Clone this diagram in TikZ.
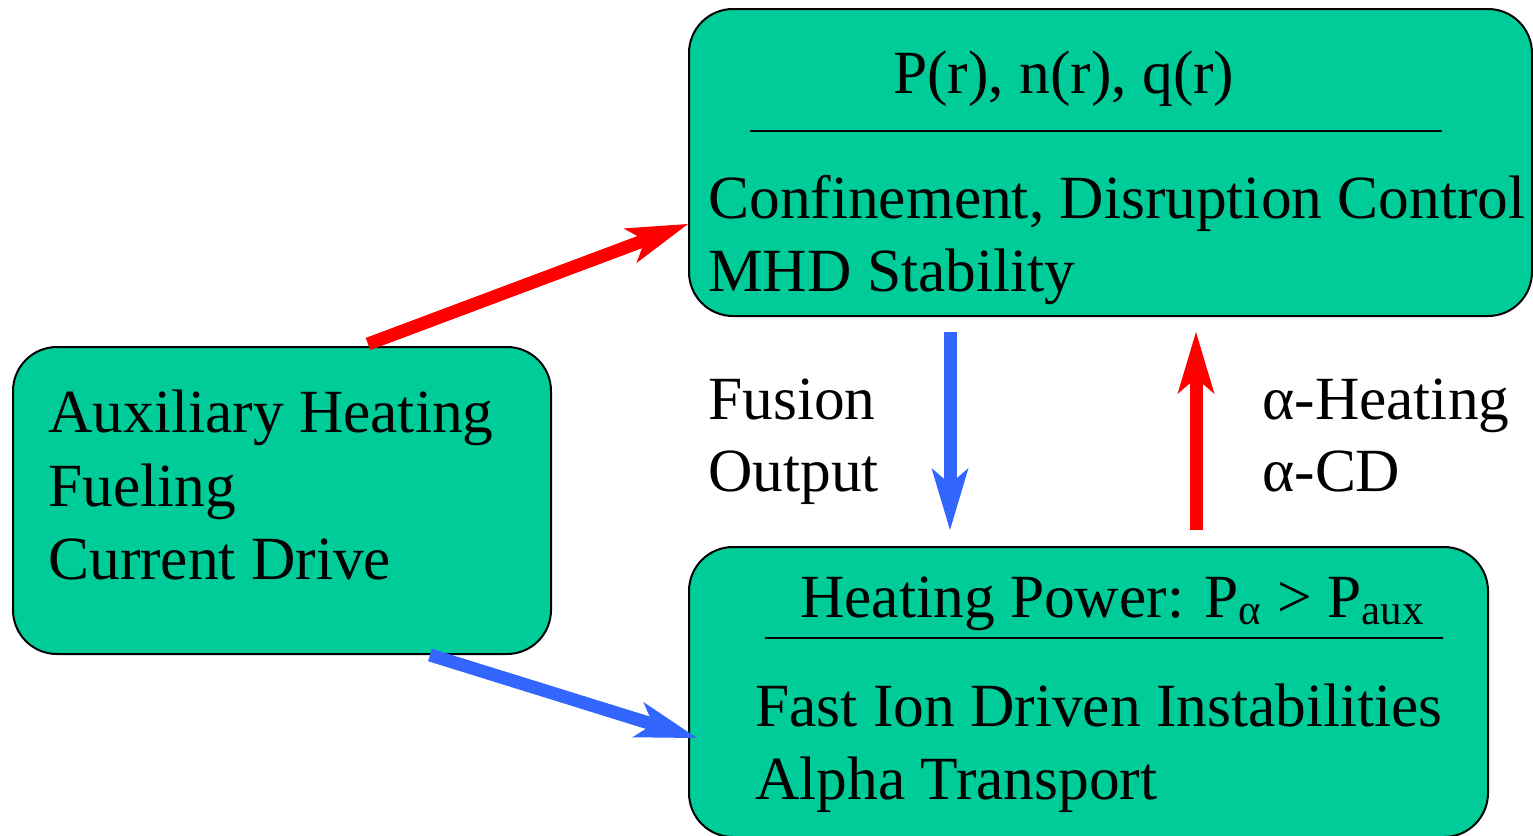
\documentclass[tikz,border=0pt]{standalone}
\usepackage{fontspec}
\setmainfont{Liberation Serif}
\usepackage{tikz}
\usepackage{xcolor}
\usetikzlibrary{arrows.meta}

\definecolor{boxgreen}{RGB}{0,204,153}
\definecolor{arrowblue}{RGB}{51,102,255}
\definecolor{arrowred}{RGB}{255,0,0}

\tikzset{
  panel/.style={draw=black, line width=1pt, fill=boxgreen, rounded corners=22pt, inner sep=0pt},
  txt/.style={anchor=base west, inner sep=0pt},
  fatarrow/.style={line width=6.5pt, -{Stealth[length=31pt, width=18.5pt, inset=8pt, line width=0pt]}}
}

\begin{document}
\begin{tikzpicture}[x=0.5pt, y=-0.5pt, font=\fontsize{30.7}{37}\selectfont]
\useasboundingbox (0,0) rectangle (1533,836);
% boxes
\node[panel, minimum width=421.5pt, minimum height=153.5pt] (plasma) at (1110.5,162.5) {};
\node[panel, minimum width=269pt, minimum height=153.5pt] (aux) at (282,500.5) {};
\node[panel, minimum width=399.5pt, minimum height=145pt] (alpha) at (1088.5,692) {};
% rules under the headings
\draw[line width=0.8pt] (750,131) -- (1442,131);
\draw[line width=0.8pt] (765,638) -- (1443,638);
% texts
\node[txt] (prof) at (893,93) {P(r), n(r), q(r)};
\node[txt] (conf) at (708,218) {Confinement, Disruption Control};
\node[txt] (mhd) at (708,291) {MHD Stability};
\node[txt] (auxh) at (48,432) {Auxiliary Heating};
\node[txt] (fuel) at (48,506) {Fueling};
\node[txt] (cd) at (48,579) {Current Drive};
\node[txt] (fus) at (708,419) {Fusion};
\node[txt] (out) at (708,491) {Output};
\node[txt] (aheat) at (1262,419) {α-Heating};
\node[txt] (acd) at (1262,491) {α-CD};
\node[txt] (hpow) at (800,617) {Heating Power: P\textsubscript{α} > P\textsubscript{aux}};
\node[txt] (fast) at (755,726) {Fast Ion Driven Instabilities};
\node[txt] (atr) at (755,799) {Alpha Transport};
% arrow ends
\coordinate (a1) at (368,344);
\coordinate (p1) at (688,224);
\coordinate (a2) at (430,655);
\coordinate (q1) at (697,738);
\coordinate (p2) at (950,332);
\coordinate (q2) at (950,530);
\coordinate (q3) at (1196,530);
\coordinate (p3) at (1196,332);
% arrows
\draw[fatarrow, arrowred] (a1) -- (p1);
\draw[fatarrow, arrowblue] (a2) -- (q1);
\draw[fatarrow, arrowblue] (p2) -- (q2);
\draw[fatarrow, arrowred] (q3) -- (p3);
\end{tikzpicture}
\end{document}
